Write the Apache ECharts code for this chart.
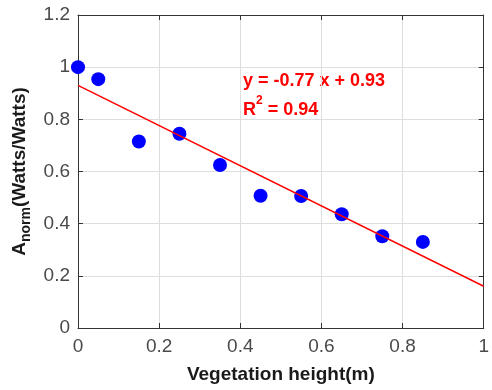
<!DOCTYPE html>
<html>
<head>
<meta charset="utf-8">
<script src="https://cdn.jsdelivr.net/npm/echarts@6/dist/echarts.min.js"></script>
<style>html,body{margin:0;padding:0;background:#fff}#c{width:492px;height:390px}</style>
</head>
<body>
<div id="c"></div>
<script>
var heights = [0, 0.05, 0.15, 0.25, 0.35, 0.45, 0.55, 0.65, 0.75, 0.85];
var anorm = [1.0, 0.954, 0.715, 0.745, 0.625, 0.507, 0.506, 0.436, 0.352, 0.330];
var fitX = [0, 1];
var fitY = [0.93, 0.16];
var eqText = 'y = -0.77 x + 0.93';
var r2Value = '0.94';

var chart = echarts.init(document.getElementById('c'), null, {renderer: 'canvas'});
var tickColor = '#4a4a4a';
var axisColor = '#333333';
var fontFam = '"Liberation Sans", Arial, Helvetica, sans-serif';
function axisCommon() {
  return {
    axisLine: {show: true, onZero: false, lineStyle: {color: axisColor, width: 1}},
    axisTick: {show: true, inside: true, length: 5, lineStyle: {color: axisColor}},
    splitLine: {show: false},
    axisLabel: {show: false}
  };
}
var option = {
  animation: false,
  backgroundColor: '#fff',
  grid: {left: 78, right: 2, top: 15, bottom: 62, containLabel: false},
  xAxis: [
    Object.assign(axisCommon(), {
      type: 'value', min: 0, max: 1, interval: 0.2, position: 'bottom',
      axisLabel: {show: true, color: tickColor, fontSize: 19, fontFamily: fontFam, margin: 9},
      splitLine: {show: true, lineStyle: {color: '#dedede', width: 1}},
      name: 'Vegetation height(m)', nameLocation: 'middle', nameGap: 37,
      nameTextStyle: {color: '#1a1a1a', fontSize: 19, fontWeight: 'bold', fontFamily: fontFam}
    }),
    Object.assign(axisCommon(), {
      type: 'value', min: 0, max: 1, interval: 0.2, position: 'top'
    })
  ],
  yAxis: [
    Object.assign(axisCommon(), {
      type: 'value', min: 0, max: 1.2, interval: 0.2, position: 'left',
      axisLabel: {show: true, color: tickColor, fontSize: 19, fontFamily: fontFam, margin: 8},
      splitLine: {show: true, lineStyle: {color: '#dedede', width: 1}},
      name: '{a|A}{s|norm}{a|(Watts/Watts)}', nameLocation: 'middle', nameGap: 44, nameRotate: 90,
      nameTextStyle: {
        color: '#1a1a1a', fontSize: 19, fontWeight: 'bold', fontFamily: fontFam,
        rich: {
          a: {color: '#1a1a1a', fontSize: 19, fontWeight: 'bold', fontFamily: fontFam, verticalAlign: 'top', lineHeight: 22},
          s: {color: '#1a1a1a', fontSize: 14, fontWeight: 'bold', fontFamily: fontFam, verticalAlign: 'bottom', lineHeight: 22, padding: [8, 0, 0, 0]}
        }
      }
    }),
    Object.assign(axisCommon(), {
      type: 'value', min: 0, max: 1.2, interval: 0.2, position: 'right'
    })
  ],
  series: [
    {
      type: 'scatter', xAxisIndex: 0, yAxisIndex: 0,
      data: heights.map(function (h, i) { return [h, anorm[i]]; }),
      symbol: 'circle', symbolSize: 14,
      itemStyle: {color: '#0000ff', opacity: 1},
      z: 3
    },
    {
      type: 'line', xAxisIndex: 0, yAxisIndex: 0,
      data: fitX.map(function (x, i) { return [x, fitY[i]]; }),
      symbol: 'none', lineStyle: {color: '#ff0000', width: 1.5},
      z: 4
    }
  ],
  graphic: [
    {
      type: 'text', left: 243, top: 72,
      style: {text: eqText, fill: '#ff0000', font: 'bold 18px ' + fontFam}
    },
    {
      type: 'text', left: 243, top: 95,
      style: {
        text: '{b|R}{p|2}{b| = ' + r2Value + '}',
        rich: {
          b: {fill: '#ff0000', fontSize: 18, fontWeight: 'bold', fontFamily: fontFam, verticalAlign: 'bottom', lineHeight: 24},
          p: {fill: '#ff0000', fontSize: 12, fontWeight: 'bold', fontFamily: fontFam, verticalAlign: 'top', lineHeight: 24}
        }
      }
    }
  ]
};
chart.setOption(option);
</script>
</body>
</html>
